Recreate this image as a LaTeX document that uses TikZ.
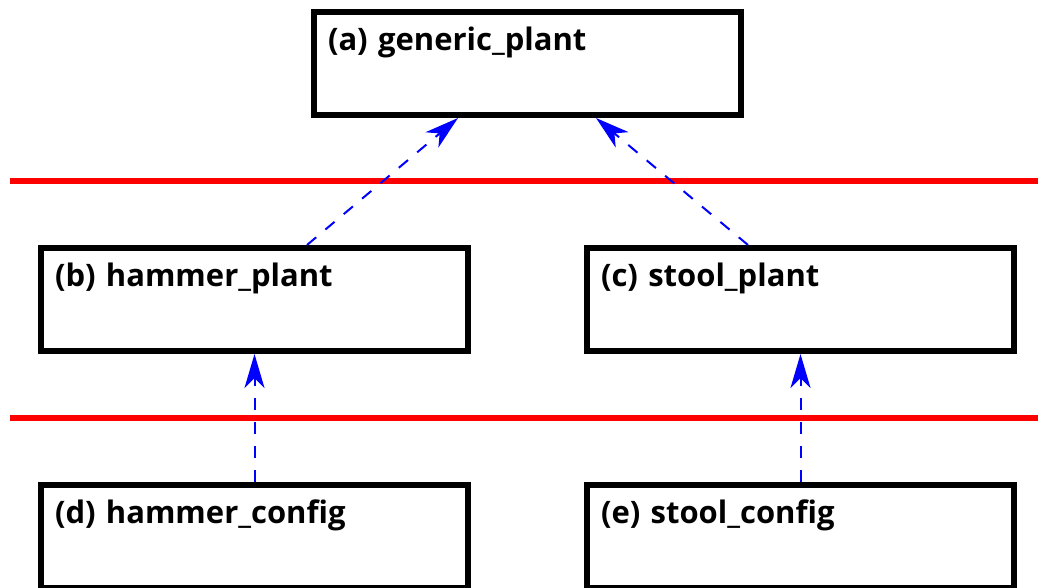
\documentclass[tikz,border=0pt]{standalone}
\usepackage{fontspec}
\setmainfont{Open Sans}
\usetikzlibrary{arrows.meta,positioning}

\begin{document}
\begin{tikzpicture}[
  x=1pt, y=-1pt,
  font=\fontsize{31}{36}\selectfont\bfseries,
  box/.style={rectangle, draw, line width=6pt, text width=399pt, align=left,
    inner xsep=14pt, inner ysep=10pt, text height=28pt, text depth=55pt},
  sep/.style={red, line width=6pt},
  dep/.style={-{Stealth[length=34pt,width=20pt,inset=10pt]}, blue,
    line width=2pt, dash pattern=on 12pt off 12pt}
]
\useasboundingbox (0,0) rectangle (1038,587);

\node[box] (a) at (527.5,63.5) {(a) generic\_plant};
\node[box] (b) at (254.5,299.5) {(b) hammer\_plant};
\node[box] (c) at (800.5,299.5) {(c) stool\_plant};
\node[box, below=128pt of b] (d) {(d) hammer\_config};
\node[box, below=128pt of c] (e) {(e) stool\_config};

% layer separators
\draw[sep] (10,181) -- (1038,181);
\draw[sep] (10,418) -- (1038,418);

\draw[dep] ([xshift=52.5pt]b.north) -- ([xshift=-69.5pt]a.south);
\draw[dep] ([xshift=-52.5pt]c.north) -- ([xshift=68.5pt]a.south);
\draw[dep] (d) -- (b);
\draw[dep] (e) -- (c);
\end{tikzpicture}
\end{document}
